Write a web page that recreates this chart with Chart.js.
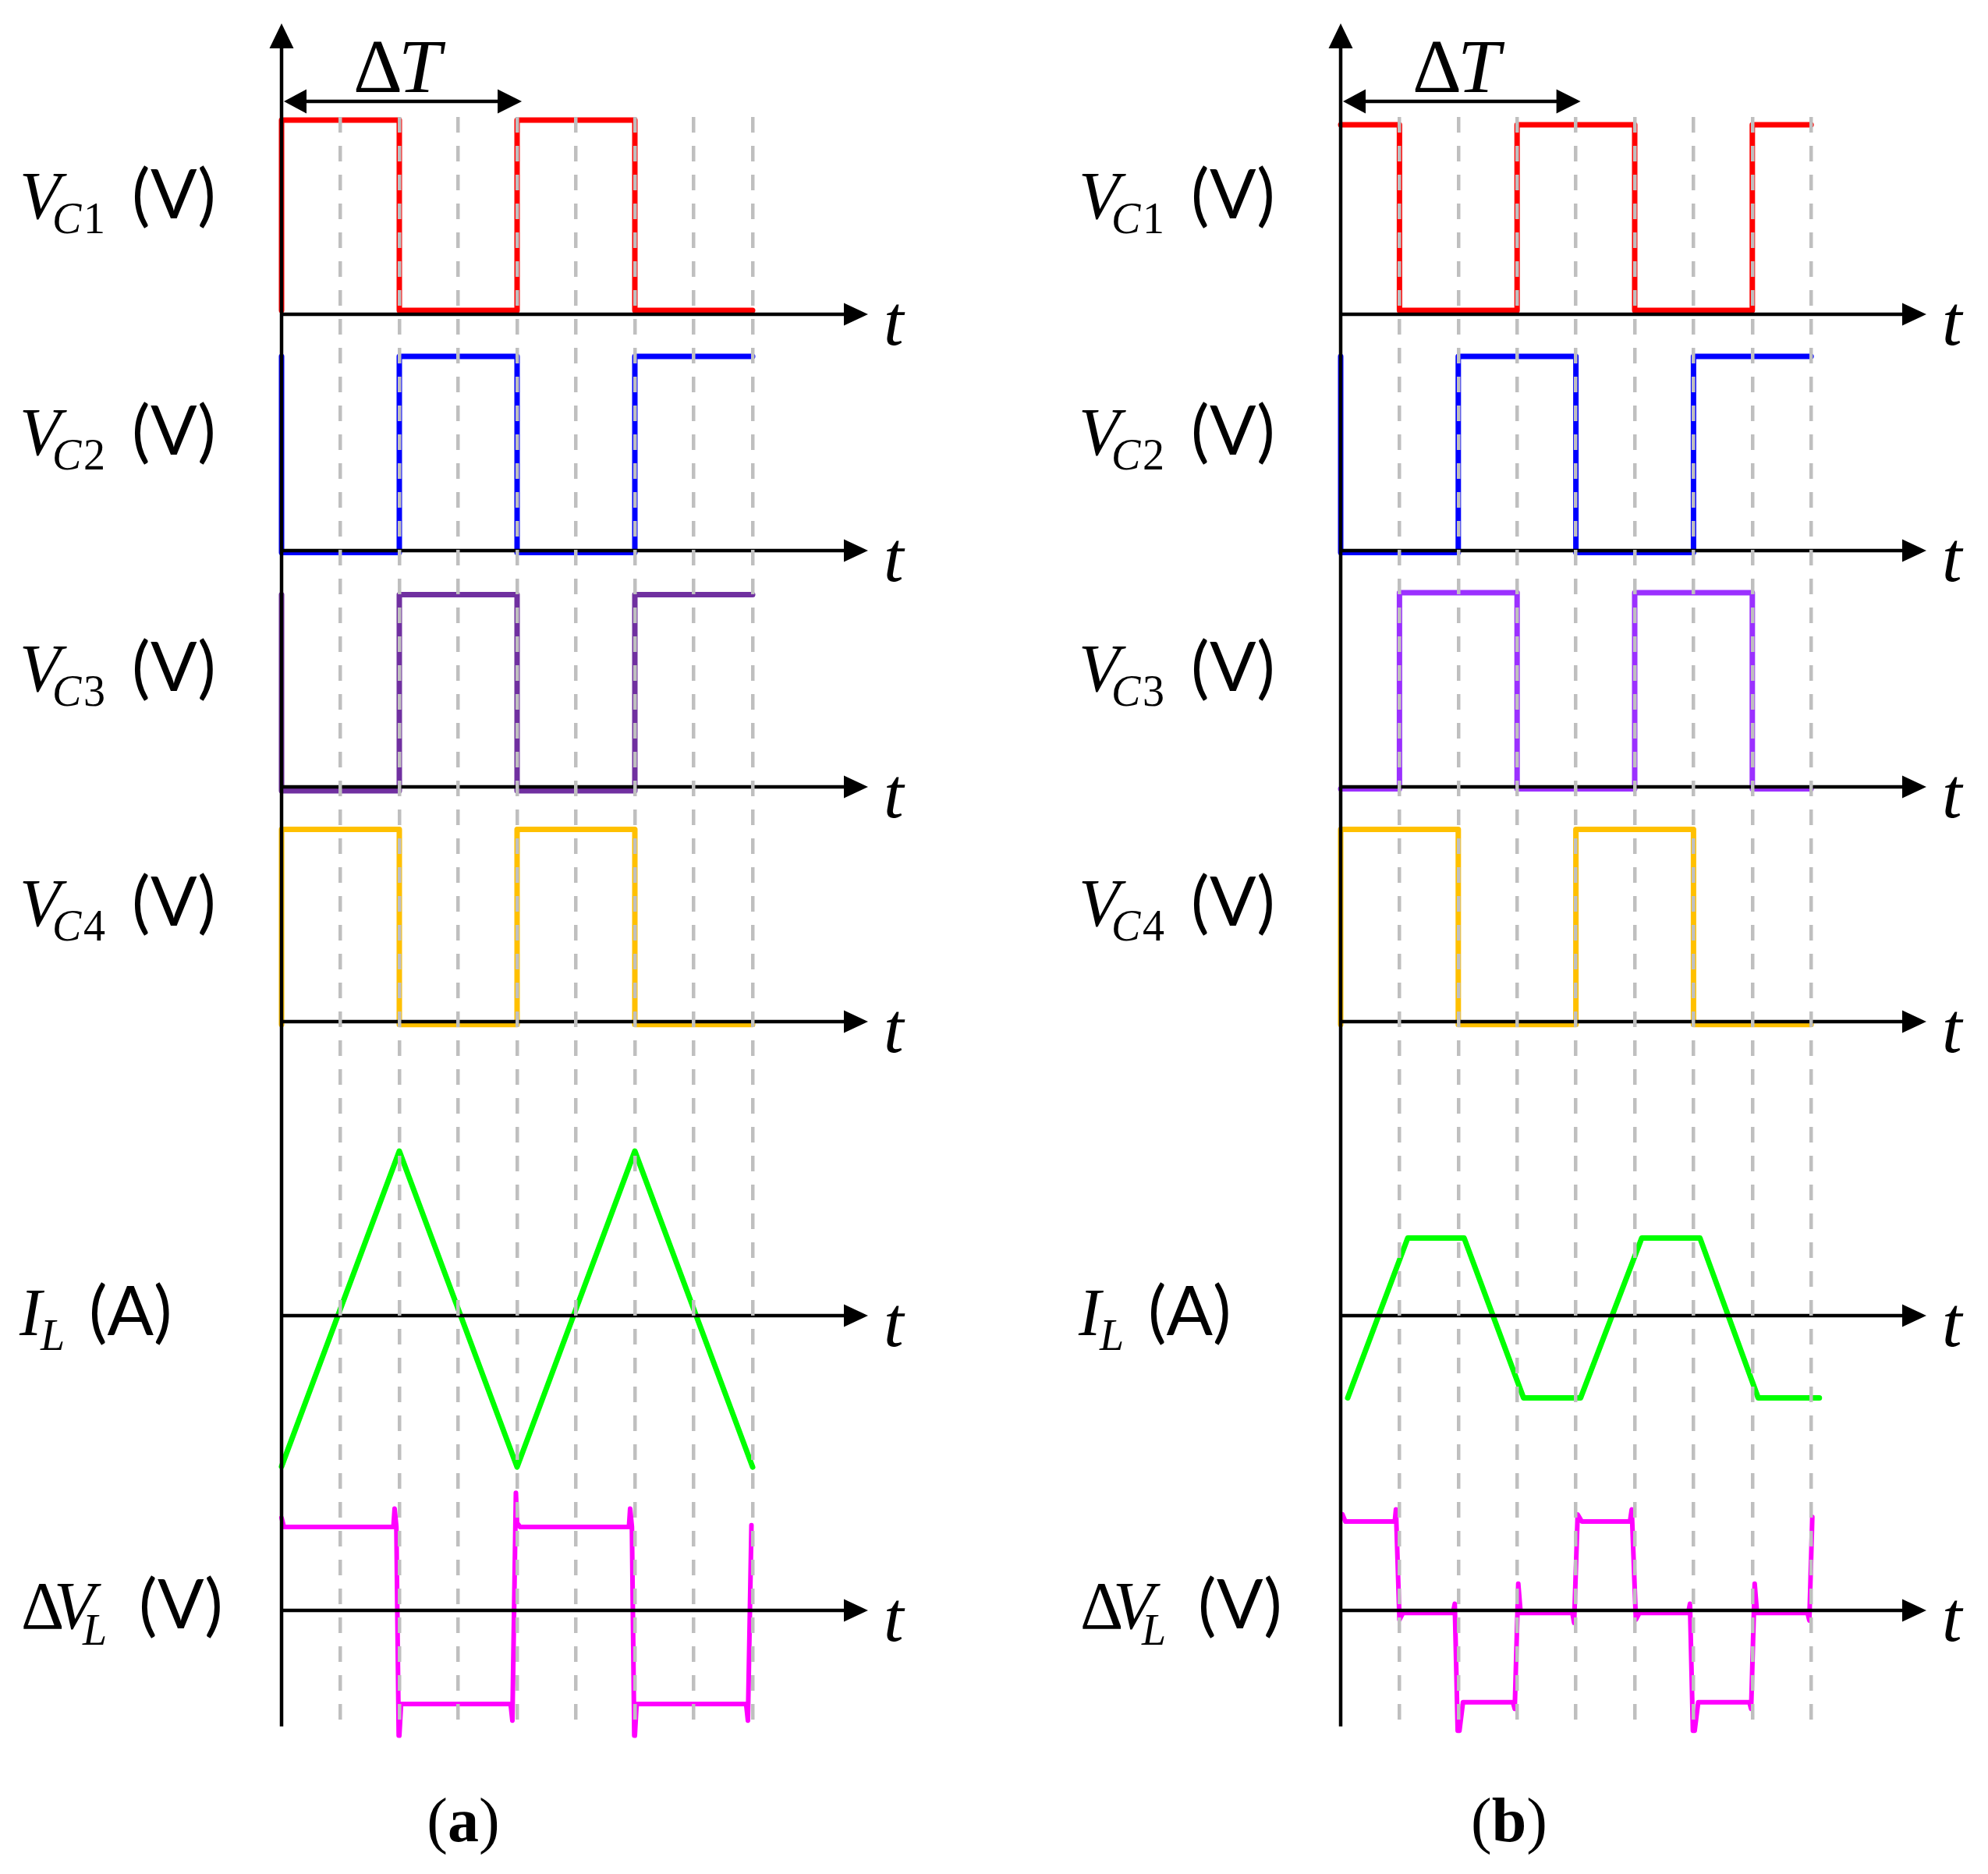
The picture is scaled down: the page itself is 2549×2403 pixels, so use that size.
<!DOCTYPE html>
<html><head><meta charset="utf-8">
<script src="https://cdn.jsdelivr.net/npm/chart.js@4.4.0/dist/chart.umd.min.js"></script>
<style>
html,body{margin:0;padding:0;background:#fff;width:2549px;height:2403px;overflow:hidden}
canvas{position:absolute;top:0}
#ca{left:0;width:1275px;height:2403px}
#cb{left:1275px;width:1274px;height:2403px}
</style></head><body>
<canvas id="ca" width="1275" height="2403"></canvas>
<canvas id="cb" width="1274" height="2403"></canvas>
<script>
// ---------- data (time in switching sub-intervals, values normalised per row) ----------
const tGrid = [1, 2, 3, 4, 5, 6, 7, 8];
const deltaTSpan = 4.08;
const axisEnd = 9.96;
const vcSubs = ['1', '2', '3', '4'];

// panel (a)
const tA_VC = [0, 0, 2, 2, 4, 4, 6, 6, 8];
const vA_VC1 = [0.02, 1, 1, 0.02, 0.02, 1, 1, 0.02, 0.02];
const vA_VC2 = [1, -0.01, -0.01, 1, 1, -0.01, -0.01, 1, 1];
const vA_VC3 = [0.99, -0.02, -0.02, 0.99, 0.99, -0.02, -0.02, 0.99, 0.99];
const vA_VC4 = [-0.015, 0.99, 0.99, -0.015, -0.015, 0.99, 0.99, -0.015, -0.015];
const tA_IL = [0, 2, 4, 6, 8];
const vA_IL = [-0.917, 1.0, -0.92, 1.0, -0.92];
const tA_DVL = [0, 0.04, 1.9, 1.92, 1.95, 1.99, 2.0, 2.03, 3.89, 3.92, 3.98, 4.0, 4.05, 5.9, 5.92, 5.95, 5.99, 6.0, 6.03, 7.89, 7.92, 7.98];
const vA_DVL = [1.11, 1.0, 1.0, 1.22, 1.0, -1.5, -1.5, -1.12, -1.12, -1.32, 1.41, 1.05, 1.0, 1.0, 1.22, 1.0, -1.5, -1.5, -1.12, -1.12, -1.32, 1.02];

// panel (b)
const tB_VC13 = [0, 1, 1, 3, 3, 5, 5, 7, 7, 8];
const tB_VC24 = [0, 0, 2, 2, 4, 4, 6, 6, 8];
const vB_VC1 = [0.976, 0.976, 0.02, 0.02, 0.976, 0.976, 0.02, 0.02, 0.976, 0.976];
const vB_VC2 = [1, -0.01, -0.01, 1, 1, -0.01, -0.01, 1, 1];
const vB_VC3 = [-0.01, -0.01, 1.0, 1.0, -0.01, -0.01, 1.0, 1.0, -0.01, -0.01];
const vB_VC4 = [-0.015, 0.99, 0.99, -0.015, -0.015, 0.99, 0.99, -0.015, -0.015];
const tB_IL = [0.12, 1.14, 2.1, 3.11, 4.08, 5.12, 6.11, 7.1, 8.14];
const vB_IL = [-0.5, 0.471, 0.471, -0.5, -0.5, 0.471, 0.471, -0.5, -0.5];
const tB_DVL = [0.03, 0.08, 0.92, 0.94, 1.0, 1.06, 1.91, 1.94, 1.99, 2.02, 2.08, 2.93, 2.96, 3.02, 3.06, 3.94, 3.97, 4.03, 4.1, 4.92, 4.95, 5.02, 5.08, 5.91, 5.94, 5.99, 6.02, 6.08, 6.95, 6.98, 7.04, 7.08, 7.94, 7.97, 8.02];
const vB_DVL = [1.15, 1.065, 1.065, 1.21, -0.11, -0.03, -0.03, 0.08, -1.44, -1.44, -1.10, -1.10, -1.18, 0.32, -0.03, -0.03, -0.15, 1.15, 1.065, 1.065, 1.21, -0.11, -0.03, -0.03, 0.08, -1.44, -1.44, -1.10, -1.10, -1.18, 0.32, -0.03, -0.03, -0.12, 1.12];

// ---------- styling ----------
const SERIF = '"Liberation Serif", "DejaVu Serif", serif';
const SANS = 'Lato, "Liberation Sans", sans-serif';
const GRID_COLOR = '#BFBFBF';

function series(ts, vs, yAxisID, color, width) {
  return {
    data: ts.map((t, i) => ({x: t, y: vs[i]})),
    xAxisID: 'x', yAxisID, borderColor: color, backgroundColor: color,
    borderWidth: width, pointRadius: 0, pointHoverRadius: 0, tension: 0,
    fill: false, clip: false, borderJoinStyle: 'round', borderCapStyle: 'round'
  };
}

function yScale(min, max, weight) {
  return {type: 'linear', position: 'left', stack: 'rows', stackWeight: weight,
          min, max, display: false, offset: false};
}

function makeScales() {
  // defined bottom row first: stacked left axes are laid out last-defined on top
  return {
    x: {type: 'linear', position: 'bottom', min: 0, max: 10, display: true,
        ticks: {display: false, stepSize: 1},
        grid: {z: 1, drawTicks: false, lineWidth: 4.5,
               color: c => (c.tick && tGrid.includes(c.tick.value)) ? GRID_COLOR : 'rgba(0,0,0,0)'},
        border: {display: false, dash: [20, 17]}},
    yDVL: yScale(-1.308, 1.542, 305),
    yIL: yScale(-1.0095, 1.6445, 560),
    yVC4: yScale(-0.1205, 1.088, 301),
    yVC3: yScale(-0.1205, 1.0964, 303),
    yVC2: yScale(-0.1205, 1.0964, 303),
    yVC1: yScale(-0.1205, 1.016, 283)
  };
}

function tri(ctx, pts) {
  ctx.beginPath(); ctx.moveTo(pts[0], pts[1]); ctx.lineTo(pts[2], pts[3]); ctx.lineTo(pts[4], pts[5]); ctx.closePath(); ctx.fill();
}
function txt(ctx, s, font, x, y) { ctx.font = font; ctx.fillText(s, x, y); }

function makeDecor(letter, letterDx) {
  return {
    id: 'decor',
    afterDatasetsDraw(chart) {
      const ctx = chart.ctx, xs = chart.scales.x;
      const x0 = xs.getPixelForValue(0), xe = xs.getPixelForValue(axisEnd);
      const yBottom = chart.scales.yDVL.getPixelForValue(-1.39);
      ctx.save();
      ctx.strokeStyle = '#000'; ctx.fillStyle = '#000'; ctx.lineWidth = 4.5; ctx.lineCap = 'butt';
      ctx.beginPath(); ctx.moveTo(x0, yBottom); ctx.lineTo(x0, 58); ctx.stroke();
      tri(ctx, [x0, 30, x0 - 15.5, 62, x0 + 15.5, 62]);
      ['yVC1', 'yVC2', 'yVC3', 'yVC4', 'yIL', 'yDVL'].forEach(id => {
        const y = chart.scales[id].getPixelForValue(0);
        ctx.beginPath(); ctx.moveTo(x0 - 2, y); ctx.lineTo(xe - 26, y); ctx.stroke();
        tri(ctx, [xe, y, xe - 31, y - 14.5, xe - 31, y + 14.5]);
      });
      ctx.restore();
    },
    afterDraw(chart) {
      const ctx = chart.ctx, xs = chart.scales.x;
      const x0 = xs.getPixelForValue(0), xe = xs.getPixelForValue(axisEnd);
      ctx.save();
      ctx.fillStyle = '#000'; ctx.strokeStyle = '#000'; ctx.textBaseline = 'alphabetic'; ctx.textAlign = 'left';
      // Delta T arrow
      const xa = xs.getPixelForValue(deltaTSpan), ya = 130;
      ctx.lineWidth = 4.5;
      ctx.beginPath(); ctx.moveTo(x0 + 28, ya); ctx.lineTo(xa - 26, ya); ctx.stroke();
      tri(ctx, [x0 + 3, ya, x0 + 32, ya - 15.5, x0 + 32, ya + 15.5]);
      tri(ctx, [xa, ya, xa - 31, ya - 15.5, xa - 31, ya + 15.5]);
      txt(ctx, '\u0394', '98px ' + SERIF, x0 + 92, 118);
      txt(ctx, 'T', 'italic 98px ' + SERIF, x0 + 150, 118);
      // row labels
      ['yVC1', 'yVC2', 'yVC3', 'yVC4'].forEach((id, k) => {
        const y0 = chart.scales[id].getPixelForValue(0);
        txt(ctx, 'V', 'italic 86px ' + SERIF, x0 - 336, y0 - 123);
        txt(ctx, 'C', 'italic 56px ' + SERIF, x0 - 294, y0 - 104);
        txt(ctx, vcSubs[k], '56px ' + SERIF, x0 - 254, y0 - 104);
        txt(ctx, '(V)', '88px ' + SANS, x0 - 192, y0 - 123);
      });
      let y0 = chart.scales.yIL.getPixelForValue(0);
      txt(ctx, 'I', 'italic 86px ' + SERIF, x0 - 336, y0 + 25);
      txt(ctx, 'L', 'italic 56px ' + SERIF, x0 - 309, y0 + 44);
      txt(ctx, '(A)', '88px ' + SANS, x0 - 247, y0 + 25);
      y0 = chart.scales.yDVL.getPixelForValue(0);
      txt(ctx, '\u0394', '86px ' + SERIF, x0 - 334, y0 + 23);
      txt(ctx, 'V', 'italic 86px ' + SERIF, x0 - 292, y0 + 23);
      txt(ctx, 'L', 'italic 56px ' + SERIF, x0 - 255, y0 + 44);
      txt(ctx, '(V)', '88px ' + SANS, x0 - 183, y0 + 23);
      // t labels
      ['yVC1', 'yVC2', 'yVC3', 'yVC4', 'yIL', 'yDVL'].forEach(id => {
        const y = chart.scales[id].getPixelForValue(0);
        txt(ctx, 't', 'italic 92px ' + SERIF, xe + 20, y + 39);
      });
      // panel letter
      const fr = '80px ' + SERIF, fb = 'bold 80px ' + SERIF;
      ctx.font = fr; const wp = ctx.measureText('(').width, wq = ctx.measureText(')').width;
      ctx.font = fb; const wl = ctx.measureText(letter).width;
      let xl = x0 + letterDx - (wp + wl + wq) / 2;
      txt(ctx, '(', fr, xl, 2361); xl += wp;
      txt(ctx, letter, fb, xl, 2361); xl += wl;
      txt(ctx, ')', fr, xl, 2361);
      ctx.restore();
    }
  };
}

function makeChart(id, datasets, padLeft, padRight, letter, letterDx) {
  return new Chart(document.getElementById(id), {
    type: 'line',
    data: {datasets},
    options: {
      responsive: false, animation: false, events: [],
      layout: {autoPadding: false, padding: {left: padLeft, right: padRight, top: 150, bottom: 198}},
      plugins: {legend: {display: false}, tooltip: {enabled: false}, title: {display: false}},
      scales: makeScales()
    },
    plugins: [makeDecor(letter, letterDx)]
  });
}

makeChart('ca', [
  series(tA_VC, vA_VC1, 'yVC1', '#FF0000', 7),
  series(tA_VC, vA_VC2, 'yVC2', '#0000FF', 7),
  series(tA_VC, vA_VC3, 'yVC3', '#7030A0', 7),
  series(tA_VC, vA_VC4, 'yVC4', '#FFC000', 7),
  series(tA_IL, vA_IL, 'yIL', '#00FF00', 7),
  series(tA_DVL, vA_DVL, 'yDVL', '#FF00FF', 6)
], 361, 159, 'a', 233);

makeChart('cb', [
  series(tB_VC13, vB_VC1, 'yVC1', '#FF0000', 7),
  series(tB_VC24, vB_VC2, 'yVC2', '#0000FF', 7),
  series(tB_VC13, vB_VC3, 'yVC3', '#9B30FF', 7),
  series(tB_VC24, vB_VC4, 'yVC4', '#FFC000', 7),
  series(tB_IL, vB_IL, 'yIL', '#00FF00', 7),
  series(tB_DVL, vB_DVL, 'yDVL', '#FF00FF', 6)
], 444, 76, 'b', 216);
</script></body></html>
